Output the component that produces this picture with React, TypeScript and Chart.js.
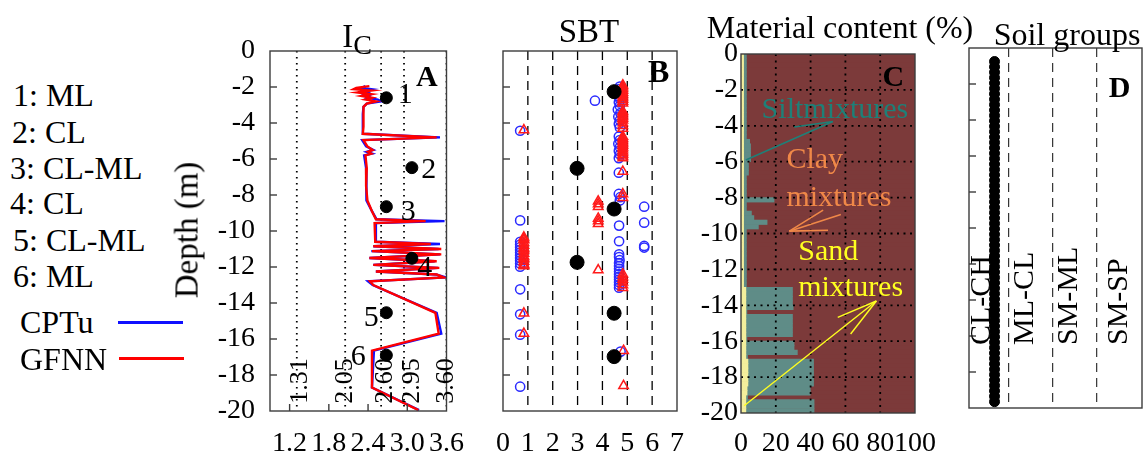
import React, { useEffect, useRef } from 'react';
import { Chart, registerables } from 'chart.js';
Chart.register(...registerables);

const FONT = "'Liberation Serif', 'Times New Roman', serif";

// ---------- Panel A : Ic profile ----------
const IC_DEPTH = [-1.95, -2.05, -2.12, -2.2, -2.3, -2.4, -2.5, -2.6, -2.7, -2.8, -2.92, -3.1, -3.5, -4.2, -4.6, -4.8, -4.95, -5.3, -5.5, -5.6, -5.7, -5.8, -6.5, -7.5, -8.3, -8.9, -9.35, -9.45, -9.56, -10.6, -10.72, -10.85, -11.0, -11.12, -11.3, -11.5, -11.68, -11.88, -12.05, -12.25, -12.42, -12.58, -12.8, -13.0, -14.55, -15.7, -16.65, -18.7, -19.95];
const IC_CPTU = [2.36, 2.30, 2.45, 2.33, 2.40, 2.34, 2.42, 2.38, 2.55, 2.60, 2.38, 2.33, 2.32, 2.32, 2.32, 3.50, 2.31, 2.37, 2.48, 2.38, 2.46, 2.34, 2.37, 2.37, 2.38, 2.46, 2.53, 3.57, 2.51, 2.52, 3.50, 2.48, 3.48, 2.45, 3.50, 2.42, 3.42, 2.48, 3.47, 2.52, 3.44, 3.59, 2.40, 2.47, 3.45, 3.52, 2.49, 2.46, 3.18];
const IC_GFNN = [2.42, 2.22, 2.18, 2.45, 2.24, 2.45, 2.30, 2.46, 2.36, 2.52, 2.38, 2.33, 2.33, 2.33, 2.32, 3.45, 2.33, 2.39, 2.47, 2.40, 2.45, 2.36, 2.38, 2.37, 2.39, 2.46, 2.52, 3.28, 2.50, 2.51, 3.36, 2.48, 3.52, 2.46, 3.52, 2.42, 3.45, 2.48, 3.49, 2.52, 3.45, 3.56, 2.43, 2.48, 3.43, 3.48, 2.46, 2.46, 3.17];
const IC_BOUNDS = [1.31, 2.05, 2.6, 2.95, 3.6];
const IC_BOUND_LABELS = ['1.31', '2.05', '2.60', '2.95', '3.60'];
const IC_TICKS = [1.2, 1.8, 2.4, 3.0, 3.6];
const SAMPLE_LABELS = ['1', '2', '3', '4', '5', '6'];
const SAMPLE_IC = [2.68, 3.07, 2.68, 3.07, 2.68, 2.68];
const SAMPLE_DEPTH_A = [-2.6, -6.48, -8.65, -11.52, -14.54, -16.9];
const LEGEND_CLASSES = ['1: ML', '2: CL', '3: CL-ML', '4: CL', '5: CL-ML', '6: ML'];

// ---------- Panel B : SBT ----------
const SBT_CPTU_X = [4.70, 4.66, 4.70, 4.64, 4.70, 4.66, 4.70, 4.62, 4.72, 4.64, 4.70, 4.66, 4.70, 4.66, 4.70, 4.64, 4.70, 4.66, 4.70, 4.66, 4.66, 4.66, 4.72, 4.70, 3.70, 0.69, 0.69, 0.69, 0.69, 0.69, 0.69, 0.69, 0.69, 0.69, 0.69, 0.69, 0.69, 0.69, 0.69, 0.69, 0.69, 5.68, 5.68, 5.68, 5.68, 4.67, 4.67, 4.67, 4.69, 4.67, 4.67, 4.67, 4.67, 4.67, 4.67, 4.67, 4.67, 4.67, 4.67, 4.67, 4.73];
const SBT_CPTU_D = [-1.98, -2.12, -2.3, -2.5, -2.65, -2.85, -3.05, -3.25, -3.45, -3.65, -3.85, -4.05, -4.25, -4.75, -4.95, -5.15, -5.35, -5.55, -5.75, -5.95, -6.76, -7.94, -8.12, -8.3, -2.76, -4.43, -9.41, -10.6, -10.75, -10.9, -11.05, -11.2, -11.35, -11.5, -11.65, -11.8, -11.98, -13.24, -14.63, -15.76, -18.65, -8.65, -9.54, -10.83, -10.92, -9.7, -10.57, -11.45, -11.62, -11.78, -11.95, -12.1, -12.25, -12.4, -12.55, -12.7, -12.85, -13.0, -13.15, -11.3, -16.7];
const SBT_GFNN_X = [4.82, 4.82, 4.82, 4.82, 4.82, 4.82, 4.82, 4.82, 4.82, 4.82, 4.82, 4.82, 4.82, 4.82, 4.82, 4.82, 4.82, 4.82, 4.82, 4.82, 4.82, 4.82, 4.82, 4.82, 4.82, 4.82, 4.82, 4.82, 4.82, 4.82, 4.82, 4.82, 4.82, 4.82, 4.82, 4.82, 0.84, 0.84, 0.84, 0.84, 0.84, 0.84, 0.84, 0.84, 0.84, 0.84, 0.84, 0.84, 0.84, 0.84, 0.84, 0.84, 0.84, 0.84, 0.84, 3.83, 3.83, 3.83, 3.83, 3.83, 3.83, 3.83, 4.82, 4.82, 4.82, 4.82, 4.82, 4.82, 4.85, 4.85];
const SBT_GFNN_D = [-1.9, -2.0, -2.1, -2.2, -2.3, -2.4, -2.5, -2.6, -2.7, -2.8, -2.9, -3.35, -3.45, -3.55, -3.65, -3.75, -3.85, -4.0, -4.15, -4.3, -4.75, -4.85, -4.95, -5.05, -5.15, -5.25, -5.35, -5.45, -5.55, -5.65, -5.75, -5.85, -5.95, -6.7, -7.95, -8.15, -4.39, -10.35, -10.5, -10.65, -10.8, -10.95, -11.1, -11.25, -11.4, -11.55, -11.7, -11.85, -11.95, -14.57, -15.7, -10.45, -11.0, -11.5, -11.9, -8.35, -8.5, -8.65, -9.3, -9.45, -9.6, -12.17, -12.4, -12.55, -12.7, -12.85, -13.0, -13.15, -16.65, -18.6];
const SBT_SAMPLE_X = [4.47, 2.98, 4.47, 2.98, 4.47, 4.47];
const SBT_SAMPLE_D = [-2.26, -6.52, -8.78, -11.74, -14.57, -16.98];

// ---------- Panel C : material content (%), 0.25 m rows ----------
const MAT_DEPTH = [
  -0.125, -0.375, -0.625, -0.875, -1.125, -1.375, -1.625, -1.875, -2.125, -2.375,
  -2.625, -2.875, -3.125, -3.375, -3.625, -3.875, -4.125, -4.375, -4.625, -4.875,
  -5.125, -5.375, -5.625, -5.875, -6.125, -6.375, -6.625, -6.875, -7.125, -7.375,
  -7.625, -7.875, -8.125, -8.375, -8.625, -8.875, -9.125, -9.375, -9.625, -9.875,
  -10.125, -10.375, -10.625, -10.875, -11.125, -11.375, -11.625, -11.875, -12.125, -12.375,
  -12.625, -12.875, -13.125, -13.375, -13.625, -13.875, -14.125, -14.375, -14.625, -14.875,
  -15.125, -15.375, -15.625, -15.875, -16.125, -16.375, -16.625, -16.875, -17.125, -17.375,
  -17.625, -17.875, -18.125, -18.375, -18.625, -18.875, -19.125, -19.375, -19.625, -19.875];
const SAND = [
  1.5, 1.5, 1.5, 1.5, 1.5, 1.5, 1.5, 1.5, 1.5, 1.5,
  1.5, 1.5, 1.5, 1.5, 1.5, 1.5, 1.5, 1.5, 1.5, 1.5,
  1.5, 1.5, 1.5, 1.5, 1.5, 1.5, 1.5, 1.5, 1.5, 1.5,
  1.5, 1.5, 1.5, 1.5, 1.5, 1.5, 1.5, 1.5, 1.5, 1.5,
  1.5, 1.5, 1.5, 1.5, 1.5, 1.5, 1.5, 1.5, 1.5, 1.5,
  1.5, 1.5, 2.8, 2.8, 2.8, 2.8, 2.8, 2.8, 2.8, 2.8,
  2.8, 2.8, 2.8, 2.8, 2.8, 2.8, 2.8, 2.8, 4.0, 4.0,
  4.0, 4.0, 4.0, 4.0, 3.5, 3.5, 2.8, 2.8, 2.8, 2.8];
const SILT = [
  1.6, 1.6, 1.6, 1.6, 1.6, 1.6, 1.6, 1.6, 1.6, 1.6,
  1.6, 1.6, 1.6, 1.6, 1.6, 1.6, 1.6, 1.6, 1.6, 3.5,
  4.0, 4.0, 4.0, 4.0, 2.8, 2.8, 2.8, 1.6, 1.6, 1.6,
  1.6, 1.6, 17.5, 1.6, 1.6, 4.5, 5.9, 13.5, 8.5, 1.6,
  1.6, 1.6, 1.6, 1.6, 1.6, 1.6, 1.6, 1.6, 1.6, 1.6,
  1.6, 1.6, 26.8, 26.8, 26.8, 26.8, 27.2, 0.6, 26.8, 26.8,
  26.8, 26.8, 26.8, 0.6, 27.7, 27.7, 29.6, 1.0, 37.7, 37.7,
  37.7, 37.7, 37.7, 37.7, 36.3, 36.3, 1.0, 39.2, 39.2, 39.2];
const CLAY = SAND.map((s, i) => 100 - s - SILT[i]);
const MAT_TICKS_X = [0, 20, 40, 60, 80, 100];

// ---------- Panel D : soil groups ----------
const GROUP_NAMES = ['CL-CH', 'ML-CL', 'SM-ML', 'SM-SP'];
const GROUP_POS = [0.39, 1.38, 2.37, 3.5];
const GROUP_X = 0.68;
const GROUP_DEPTH = [-0.75, -1.05, -1.35, -1.65, -1.95, -2.25, -2.55, -2.85, -3.15, -3.45, -3.75, -4.05, -4.35, -4.65, -4.95, -5.25, -5.55, -5.85, -6.15, -6.45, -6.75, -7.05, -7.35, -7.65, -7.95, -8.25, -8.55, -8.85, -9.15, -9.45, -9.75, -10.05, -10.35, -10.65, -10.95, -11.25, -11.55, -11.85, -12.15, -12.45, -12.75, -13.05, -13.35, -13.65, -13.95, -14.25, -14.55, -14.85, -15.15, -15.45, -15.75, -16.05, -16.35, -16.65, -16.95, -17.25, -17.55, -17.85, -18.15, -18.45, -18.75, -19.05, -19.35, -19.65];

const DEPTH_TICKS = [-2, -4, -6, -8, -10, -12, -14, -16, -18];

// ---------- decoration plugin ----------
function drawGrid(chart: any, o: any) {
  const { ctx, chartArea: a, scales } = chart;
  ctx.save();
  ctx.strokeStyle = o.gridColor || '#000';
  ctx.lineWidth = o.gridWidth || 1.3;
  ctx.setLineDash(o.gridDash || []);
  for (const v of o.vgrid || []) {
    const x = scales.x.getPixelForValue(v);
    ctx.beginPath(); ctx.moveTo(x, a.top); ctx.lineTo(x, a.bottom); ctx.stroke();
  }
  for (const v of o.hgrid || []) {
    const y = scales.y.getPixelForValue(v);
    ctx.beginPath(); ctx.moveTo(a.left, y); ctx.lineTo(a.right, y); ctx.stroke();
  }
  ctx.restore();
}

const deco = {
  id: 'deco',
  beforeDatasetsDraw(chart: any, _a: any, o: any) {
    const { ctx, chartArea: a } = chart;
    if (o.bg) {
      ctx.save(); ctx.fillStyle = o.bg;
      ctx.fillRect(a.left, a.top, a.right - a.left, a.bottom - a.top);
      ctx.restore();
    }
    if (!o.gridOnTop) drawGrid(chart, o);
  },
  afterDatasetsDraw(chart: any, _a: any, o: any) {
    const { ctx, chartArea: a, scales } = chart;
    if (o.gridOnTop) drawGrid(chart, o);
    ctx.save();
    ctx.setLineDash([]);
    ctx.strokeStyle = '#3c3c3c';
    ctx.lineWidth = 1.4;
    for (const v of o.leftTicks || []) {
      const y = scales.y.getPixelForValue(v);
      ctx.beginPath(); ctx.moveTo(a.left, y); ctx.lineTo(a.left + 7, y); ctx.stroke();
    }
    for (const v of o.bottomTicks || []) {
      const x = scales.x.getPixelForValue(v);
      ctx.beginPath(); ctx.moveTo(x, a.bottom); ctx.lineTo(x, a.bottom - 7); ctx.stroke();
    }
    ctx.strokeRect(a.left, a.top, a.right - a.left, a.bottom - a.top);
    for (const ar of o.arrows || []) {
      ctx.strokeStyle = ar.color; ctx.lineWidth = ar.width || 1.5;
      for (const s of ar.segs) {
        ctx.beginPath();
        ctx.moveTo(scales.x.getPixelForValue(s[0]), scales.y.getPixelForValue(s[1]));
        ctx.lineTo(scales.x.getPixelForValue(s[2]), scales.y.getPixelForValue(s[3]));
        ctx.stroke();
      }
    }
    for (const t of o.texts || []) {
      const px = scales.x.getPixelForValue(t.x) + (t.dx || 0);
      const py = scales.y.getPixelForValue(t.y) + (t.dy || 0);
      ctx.save();
      ctx.translate(px, py);
      if (t.rot) ctx.rotate(-Math.PI / 2);
      ctx.font = `${t.bold ? 'bold ' : ''}${t.size || 28}px ${FONT}`;
      ctx.fillStyle = t.color || '#000';
      ctx.textAlign = t.align || 'center';
      ctx.textBaseline = 'middle';
      ctx.fillText(t.t, 0, 0);
      ctx.restore();
    }
    ctx.restore();
  },
};

const tickFont = { family: FONT, size: 28 };

function baseOptions(pad: any, extra: any) {
  return {
    responsive: false,
    animation: false,
    events: [],
    layout: { padding: pad },
    plugins: { legend: { display: false }, tooltip: { enabled: false }, deco: extra.deco },
    scales: extra.scales,
  };
}

function depthAxis(show: boolean, width: number, padding: number) {
  return {
    type: 'linear', min: -20, max: 0, display: show,
    ticks: { stepSize: 2, font: tickFont, color: '#000', padding, autoSkip: false, callback: (v: any) => String(v) },
    grid: { display: false, drawTicks: false },
    border: { display: false },
    afterFit: (s: any) => { s.width = width; },
  };
}

function valueAxis(min: number, max: number, ticks: number[], bottomH: number, padding: number, fmt: (v: number) => string, show = true) {
  return {
    type: 'linear', min, max, display: show, offset: false,
    afterBuildTicks: (s: any) => { s.ticks = ticks.map((v) => ({ value: v })); },
    ticks: { font: tickFont, color: '#000', padding, autoSkip: false, maxRotation: 0, minRotation: 0, callback: (v: any) => fmt(Number(v)) },
    grid: { display: false, drawTicks: false },
    border: { display: false },
    afterFit: (s: any) => { s.height = bottomH; },
  };
}

function configA() {
  return {
    type: 'scatter',
    data: {
      datasets: [
        { label: 'Samples', data: SAMPLE_IC.map((x, i) => ({ x, y: SAMPLE_DEPTH_A[i] })), pointRadius: 6, backgroundColor: '#000', borderColor: '#000', order: 0 },
        { label: 'GFNN', data: IC_DEPTH.map((y, i) => ({ x: IC_GFNN[i], y })), showLine: true, borderColor: '#ff0000', borderWidth: 2.4, pointRadius: 0, order: 1 },
        { label: 'CPTu', data: IC_DEPTH.map((y, i) => ({ x: IC_CPTU[i], y })), showLine: true, borderColor: '#1010ff', borderWidth: 2.4, pointRadius: 0, order: 2 },
        ...IC_BOUNDS.map((b) => ({ label: 'b' + b, data: [{ x: b, y: 0 }, { x: b, y: -20 }], showLine: true, borderColor: '#000', borderWidth: 1.8, borderDash: [1.6, 4.4], pointRadius: 0, order: 3 })),
      ],
    },
    options: baseOptions({ top: 51, right: 28, left: 0, bottom: 0 }, {
      deco: {
        leftTicks: DEPTH_TICKS,
        bottomTicks: [1.2, 1.8, 2.4, 3.0],
        texts: [
          ...SAMPLE_LABELS.map((t, i) => ({ t, x: SAMPLE_IC[i], y: SAMPLE_DEPTH_A[i], dx: [19, 17, 22, 13, -15, -28][i], dy: [-3, 2, 5, 10, 5, 2][i], size: 30 })),
          ...IC_BOUND_LABELS.map((t, i) => ({ t, x: IC_BOUNDS[i], y: -19.6, dx: [3, 0, 4, 8, 0][i], rot: true, align: 'left', size: 26 })),
          { t: 'A', x: 3.3, y: -1.5, bold: true, size: 30 },
        ],
      },
      scales: {
        x: valueAxis(0.9, 3.6, IC_TICKS, 47, 16, (v) => v.toFixed(1)),
        y: depthAxis(true, 100, 15),
      },
    }),
    plugins: [deco],
  };
}

function configB() {
  return {
    type: 'scatter',
    data: {
      datasets: [
        { label: 'Samples', data: SBT_SAMPLE_X.map((x, i) => ({ x, y: SBT_SAMPLE_D[i] })), pointRadius: 7, backgroundColor: '#000', borderColor: '#000', order: 0 },
        { label: 'GFNN', data: SBT_GFNN_X.map((x, i) => ({ x, y: SBT_GFNN_D[i] })), pointStyle: 'triangle', pointRadius: 5.5, borderWidth: 1.5, borderColor: '#ff1a1a', backgroundColor: 'rgba(0,0,0,0)', order: 1 },
        { label: 'CPTu', data: SBT_CPTU_X.map((x, i) => ({ x, y: SBT_CPTU_D[i] })), pointStyle: 'circle', pointRadius: 4.6, borderWidth: 1.5, borderColor: '#2a2aff', backgroundColor: 'rgba(0,0,0,0)', order: 2 },
      ],
    },
    options: baseOptions({ top: 51, right: 20, left: 20, bottom: 0 }, {
      deco: {
        vgrid: [1, 2, 3, 4, 5, 6], gridDash: [9, 6], gridWidth: 1.3,
        leftTicks: DEPTH_TICKS,
        texts: [{ t: 'B', x: 6.26, y: -1.28, bold: true, size: 32 }],
      },
      scales: {
        x: valueAxis(0, 7, [0, 1, 2, 3, 4, 5, 6, 7], 47, 16, (v) => String(v)),
        y: depthAxis(false, 0, 0),
      },
    }),
    plugins: [deco],
  };
}

function configC() {
  const mk = (label: string, vals: number[], color: string) => ({
    label, data: vals.map((x, i) => ({ x, y: MAT_DEPTH[i] })), backgroundColor: color, borderWidth: 0,
    barPercentage: 1, categoryPercentage: 1,
  });
  return {
    type: 'bar',
    data: {
      datasets: [
        mk('Sand mixtures', SAND, '#f3ee9c'),
        mk('Silt mixtures', SILT, '#5f8c87'),
        mk('Clay mixtures', CLAY, '#7c3a3a'),
      ],
    },
    options: {
      ...baseOptions({ top: 54, right: 30, left: 0, bottom: 0 }, {
        deco: {
          bg: '#7c3a3a',
          gridOnTop: true,
          vgrid: [20, 40, 60, 80], hgrid: DEPTH_TICKS, gridDash: [2, 4.5], gridWidth: 1.8,
          arrows: [
            { color: '#1e8078', width: 1.6, segs: [[2.8, -5.9, 52.8, -3.76], [30.6, -4.07, 52.8, -3.76]] },
            { color: '#f08848', width: 1.6, segs: [[27.8, -9.87, 47.2, -8.7], [27.8, -9.87, 57.4, -8.94], [27.8, -9.87, 50, -9.82]] },
            { color: '#ffff20', width: 1.4, segs: [[1.8, -19.6, 77.8, -13.76], [55.6, -14.67, 77.8, -13.76], [63, -15.6, 77.8, -13.76]] },
          ],
          texts: [
            { t: 'Siltmixtures', x: 54, y: -3.1, color: '#1e8078', size: 30 },
            { t: 'Clay', x: 42.4, y: -5.9, color: '#f08848', size: 30 },
            { t: 'mixtures', x: 56.3, y: -8.05, color: '#f08848', size: 30 },
            { t: 'Sand', x: 50.2, y: -11.06, color: '#ffff20', size: 30 },
            { t: 'mixtures', x: 63, y: -13.06, color: '#ffff20', size: 30 },
            { t: 'C', x: 87.5, y: -1.33, bold: true, size: 30 },
          ],
        },
        scales: {
          x: { ...valueAxis(0, 100, MAT_TICKS_X, 45, 14, (v) => String(v)), stacked: true },
          y: { ...depthAxis(true, 51, 3), stacked: true, offset: false },
        },
      }),
      indexAxis: 'y',
    },
    plugins: [deco],
  };
}

function configD() {
  return {
    type: 'scatter',
    data: {
      datasets: [
        { label: 'Soil group', data: GROUP_DEPTH.map((y) => ({ x: GROUP_X, y })), pointRadius: 5, backgroundColor: '#000', borderColor: '#000' },
      ],
    },
    options: baseOptions({ top: 48, right: 2, left: 19, bottom: 50 }, {
      deco: {
        vgrid: [1, 2, 3], gridDash: [9, 6], gridWidth: 1.2, gridColor: '#333',
        leftTicks: DEPTH_TICKS,
        texts: [
          ...GROUP_NAMES.map((t, i) => ({ t, x: GROUP_POS[i], y: -16.5, rot: true, align: 'left', size: 30 })),
          { t: 'D', x: 3.52, y: -2.28, bold: true, size: 30 },
        ],
      },
      scales: {
        x: { ...valueAxis(0.1, 4.03, [1, 2, 3], 0, 0, (v) => String(v), false) },
        y: depthAxis(false, 0, 0),
      },
    }),
    plugins: [deco],
  };
}

function Panel({ left, width, make }: { left: number; width: number; make: () => any }) {
  const ref = useRef<HTMLCanvasElement | null>(null);
  useEffect(() => {
    const c = new Chart(ref.current as HTMLCanvasElement, make());
    return () => c.destroy();
  }, []);
  return <canvas ref={ref} width={width} height={458} style={{ position: 'absolute', left, top: 0, width, height: 458 }} />;
}

const txt = (extra: any): any => ({
  position: 'absolute', fontFamily: FONT, color: '#000', whiteSpace: 'nowrap', lineHeight: 1, ...extra,
});

export default function App() {
  useEffect(() => { document.body.style.margin = '0'; }, []);
  return (
    <div style={{ position: 'fixed', left: 0, top: 0, width: 1148, height: 458, background: '#fff', overflow: 'hidden' }}>
      <Panel left={170} width={310} make={configA} />
      <Panel left={480} width={220} make={configB} />
      <Panel left={690} width={260} make={configC} />
      <Panel left={950} width={198} make={configD} />

      {LEGEND_CLASSES.map((t, i) => (
        <div key={t + i} style={txt({ left: [13, 12, 10, 10, 13, 13][i], top: [95, 132, 168, 203, 240, 276][i], fontSize: 32, transform: 'translateY(-50%)' })}>{t}</div>
      ))}
      <div style={txt({ left: 20, top: 322, fontSize: 32, transform: 'translateY(-50%)' })}>CPTu</div>
      <div style={{ position: 'absolute', left: 118, top: 321, width: 65, height: 3, background: '#1010ff' }} />
      <div style={txt({ left: 20, top: 359, fontSize: 32, transform: 'translateY(-50%)' })}>GFNN</div>
      <div style={{ position: 'absolute', left: 119, top: 357, width: 65, height: 3, background: '#ff0000' }} />

      <div style={txt({ left: 187, top: 230, fontSize: 33, transform: 'translate(-50%, -50%) rotate(-90deg)' })}>Depth (m)</div>

      <div style={txt({ left: 357, top: 36, fontSize: 33, transform: 'translate(-50%, -50%)' })}>
        I<span style={{ fontSize: '0.85em', position: 'relative', top: '0.25em' }}>C</span>
      </div>
      <div style={txt({ left: 589, top: 31, fontSize: 33, transform: 'translate(-50%, -50%)' })}>SBT</div>
      <div style={txt({ left: 840, top: 27, fontSize: 32, transform: 'translate(-50%, -50%)' })}>Material content (%)</div>
      <div style={txt({ left: 1067, top: 34, fontSize: 32, transform: 'translate(-50%, -50%)' })}>Soil groups</div>
    </div>
  );
}
